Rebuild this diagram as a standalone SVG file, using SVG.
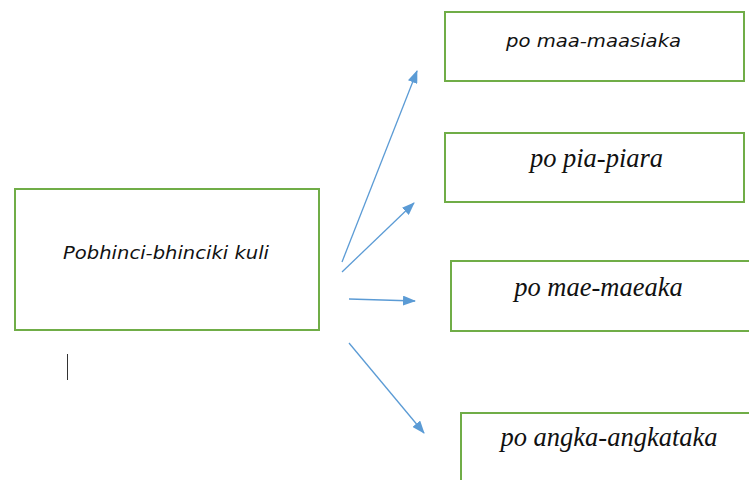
<svg xmlns="http://www.w3.org/2000/svg" width="749" height="480" viewBox="0 0 749 480">
  <style>
    .box { fill: #ffffff; stroke: #70AD47; stroke-width: 2; }
    .edge { stroke: #5B9BD5; stroke-width: 1.3; fill: none; marker-end: url(#arrow); }
    .sans { font-family: "DejaVu Sans", "Liberation Sans", sans-serif; font-style: italic; font-size: 18px; fill: #111111; }
    .serif { font-family: "Liberation Serif", "DejaVu Serif", serif; font-style: italic; font-size: 26.5px; fill: #111111; }
  </style>
  <defs>
    <marker id="arrow" viewBox="0 0 13 10" refX="12" refY="5" markerWidth="13" markerHeight="10" markerUnits="userSpaceOnUse" orient="auto">
      <path d="M0,0 L13,5 L0,10 Z" fill="#5B9BD5"/>
    </marker>
  </defs>
  <rect width="749" height="480" fill="#ffffff"/>

  <g id="root-node">
    <rect class="box" x="15" y="189" width="304" height="141"/>
    <text class="sans" x="166" y="259" text-anchor="middle" textLength="206" lengthAdjust="spacingAndGlyphs">Pobhinci-bhinciki kuli</text>
  </g>

  <g id="node-maasiaka">
    <rect class="box" x="445" y="12" width="299" height="69"/>
    <text class="sans" x="593.5" y="47" text-anchor="middle" textLength="175" lengthAdjust="spacingAndGlyphs">po maa-maasiaka</text>
  </g>

  <g id="node-piara">
    <rect class="box" x="445" y="133" width="299" height="69"/>
    <text class="serif" x="596.5" y="167" text-anchor="middle">po pia-piara</text>
  </g>

  <g id="node-maeaka">
    <rect class="box" x="451" y="261" width="300" height="70"/>
    <text class="serif" x="598.5" y="296" text-anchor="middle">po mae-maeaka</text>
  </g>

  <g id="node-angkataka">
    <rect class="box" x="461" y="413" width="290" height="80"/>
    <text class="serif" x="609" y="446" text-anchor="middle">po angka-angkataka</text>
  </g>

  <g id="connectors">
    <line class="edge" x1="342" y1="262" x2="417" y2="71"/>
    <line class="edge" x1="342" y1="272" x2="414" y2="203"/>
    <line class="edge" x1="349" y1="299" x2="415" y2="301"/>
    <line class="edge" x1="349" y1="343" x2="424" y2="433"/>
  </g>

  <!-- text caret below the root box -->
  <line x1="67.5" y1="354" x2="67.5" y2="380" stroke="#333333" stroke-width="1"/>
</svg>
